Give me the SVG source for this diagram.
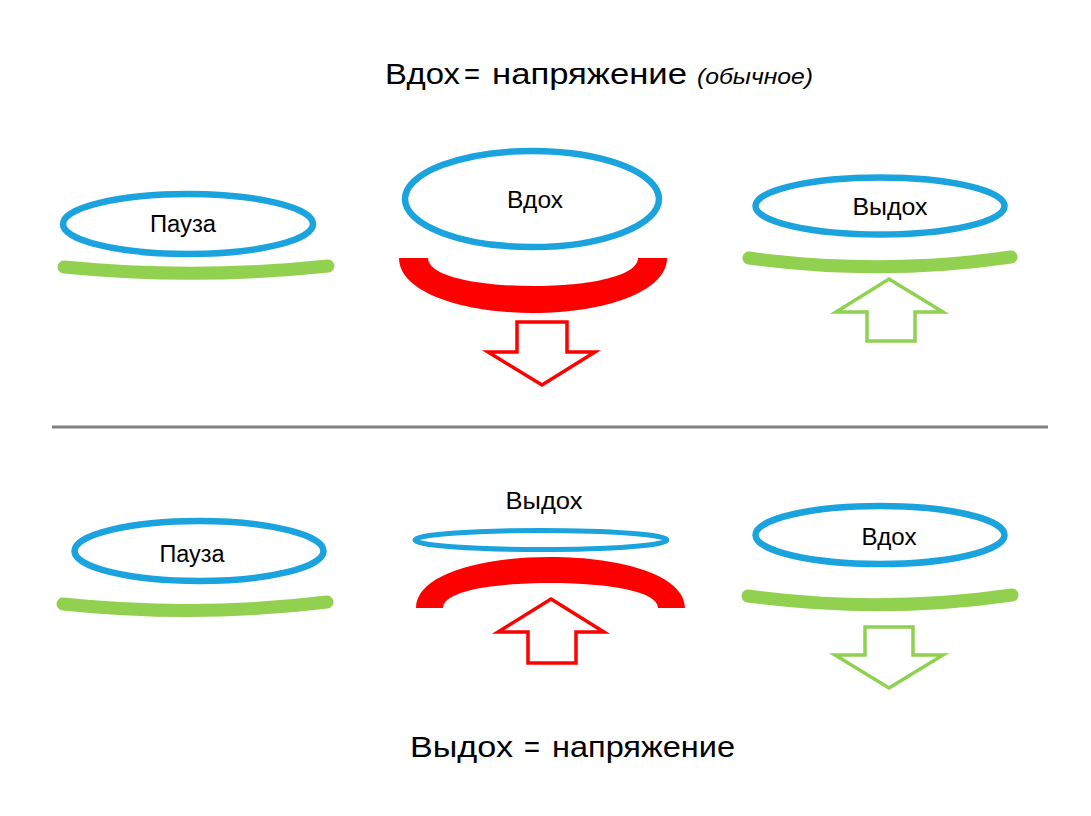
<svg xmlns="http://www.w3.org/2000/svg" width="1091" height="816" viewBox="0 0 1091 816">
<style>
.ell{fill:none;stroke:#1ba3dd;stroke-width:6.5}
.bar{fill:none;stroke:#92d050;stroke-width:13;stroke-linecap:round}
.red{fill:#ff0000}
.arR{fill:#ffffff;stroke:#ff0000;stroke-width:3.5;stroke-linejoin:miter}
.arG{fill:#ffffff;stroke:#8fd150;stroke-width:3.5;stroke-linejoin:miter}
.lbl{font-family:"Liberation Sans",Arial,sans-serif;font-size:23px;fill:#000;text-anchor:middle}
.ttl{font-family:"Liberation Sans",Arial,sans-serif;font-size:30px;fill:#000}
.it{font-family:"Liberation Sans",Arial,sans-serif;font-size:22px;font-style:italic;fill:#000}
</style>
<rect width="1091" height="816" fill="#ffffff"/>
<g id="title-top">
<text class="ttl" x="385" y="84" textLength="75" lengthAdjust="spacingAndGlyphs">Вдох</text>
<text class="ttl" x="464" y="84" textLength="16" lengthAdjust="spacingAndGlyphs">=</text>
<text class="ttl" x="492" y="84" textLength="195" lengthAdjust="spacingAndGlyphs">напряжение</text>
<text class="it" x="697" y="84" textLength="116" lengthAdjust="spacingAndGlyphs">(обычное)</text>
</g>
<g id="node-pause-top">
<ellipse class="ell" cx="188" cy="224" rx="125" ry="30"/>
<text class="lbl" x="183" y="232" textLength="66" lengthAdjust="spacingAndGlyphs">Пауза</text>
<path class="bar" d="M64,267 Q196,280 328,266"/>
</g>
<g id="node-inhale-top">
<ellipse class="ell" cx="532" cy="199" rx="127" ry="48"/>
<text class="lbl" x="535" y="208" textLength="56" lengthAdjust="spacingAndGlyphs">Вдох</text>
<path class="red" d="M399,258 C399,292 462,313 533,313 C604,313 667,292 667,258 L638,258 C638,276 590,286 533,286 C476,286 428,276 428,258 Z"/>
<polygon class="arR" points="517,322 567,322 567,352 595,352 542,385 488,352 517,352"/>
</g>
<g id="node-exhale-top">
<ellipse class="ell" cx="880" cy="206" rx="124.5" ry="28.5"/>
<text class="lbl" x="890" y="215" textLength="75" lengthAdjust="spacingAndGlyphs">Выдох</text>
<path class="bar" d="M749,258 Q880,276 1011,257"/>
<polygon class="arG" points="889,279 943,312 915,312 915,341 867,341 867,312 836,312"/>
</g>
<g id="connectors">
<line x1="52" y1="427" x2="1048" y2="427" stroke="#808080" stroke-width="3"/>
</g>
<g id="node-pause-bottom">
<ellipse class="ell" cx="199" cy="551" rx="124.5" ry="30"/>
<text class="lbl" x="192" y="562" textLength="65" lengthAdjust="spacingAndGlyphs">Пауза</text>
<path class="bar" d="M63,604 Q196,618 327,602"/>
</g>
<g id="node-exhale-bottom">
<text class="lbl" x="544" y="509" textLength="77" lengthAdjust="spacingAndGlyphs">Выдох</text>
<ellipse class="ell" cx="541" cy="540" rx="126" ry="9.5" style="stroke-width:5"/>
<path class="red" d="M416,608 C416,576 476,557 550,557 C624,557 685,576 685,608 L658,608 C658,592 612,583 550,583 C488,583 443,592 443,608 Z"/>
<polygon class="arR" points="551,599 604,632 576,632 576,663 528,663 528,632 498,632"/>
</g>
<g id="node-inhale-bottom">
<ellipse class="ell" cx="880" cy="535" rx="124.5" ry="29"/>
<text class="lbl" x="889" y="545" textLength="55" lengthAdjust="spacingAndGlyphs">Вдох</text>
<path class="bar" d="M748,596 Q880,614 1012,595"/>
<polygon class="arG" points="865,627 913,627 913,655 943,655 889,688 835,655 865,655"/>
</g>
<g id="title-bottom">
<text class="ttl" x="410" y="757" textLength="103" lengthAdjust="spacingAndGlyphs">Выдох</text>
<text class="ttl" x="524" y="757" textLength="16" lengthAdjust="spacingAndGlyphs">=</text>
<text class="ttl" x="552" y="757" textLength="183" lengthAdjust="spacingAndGlyphs">напряжение</text>
</g>
</svg>
